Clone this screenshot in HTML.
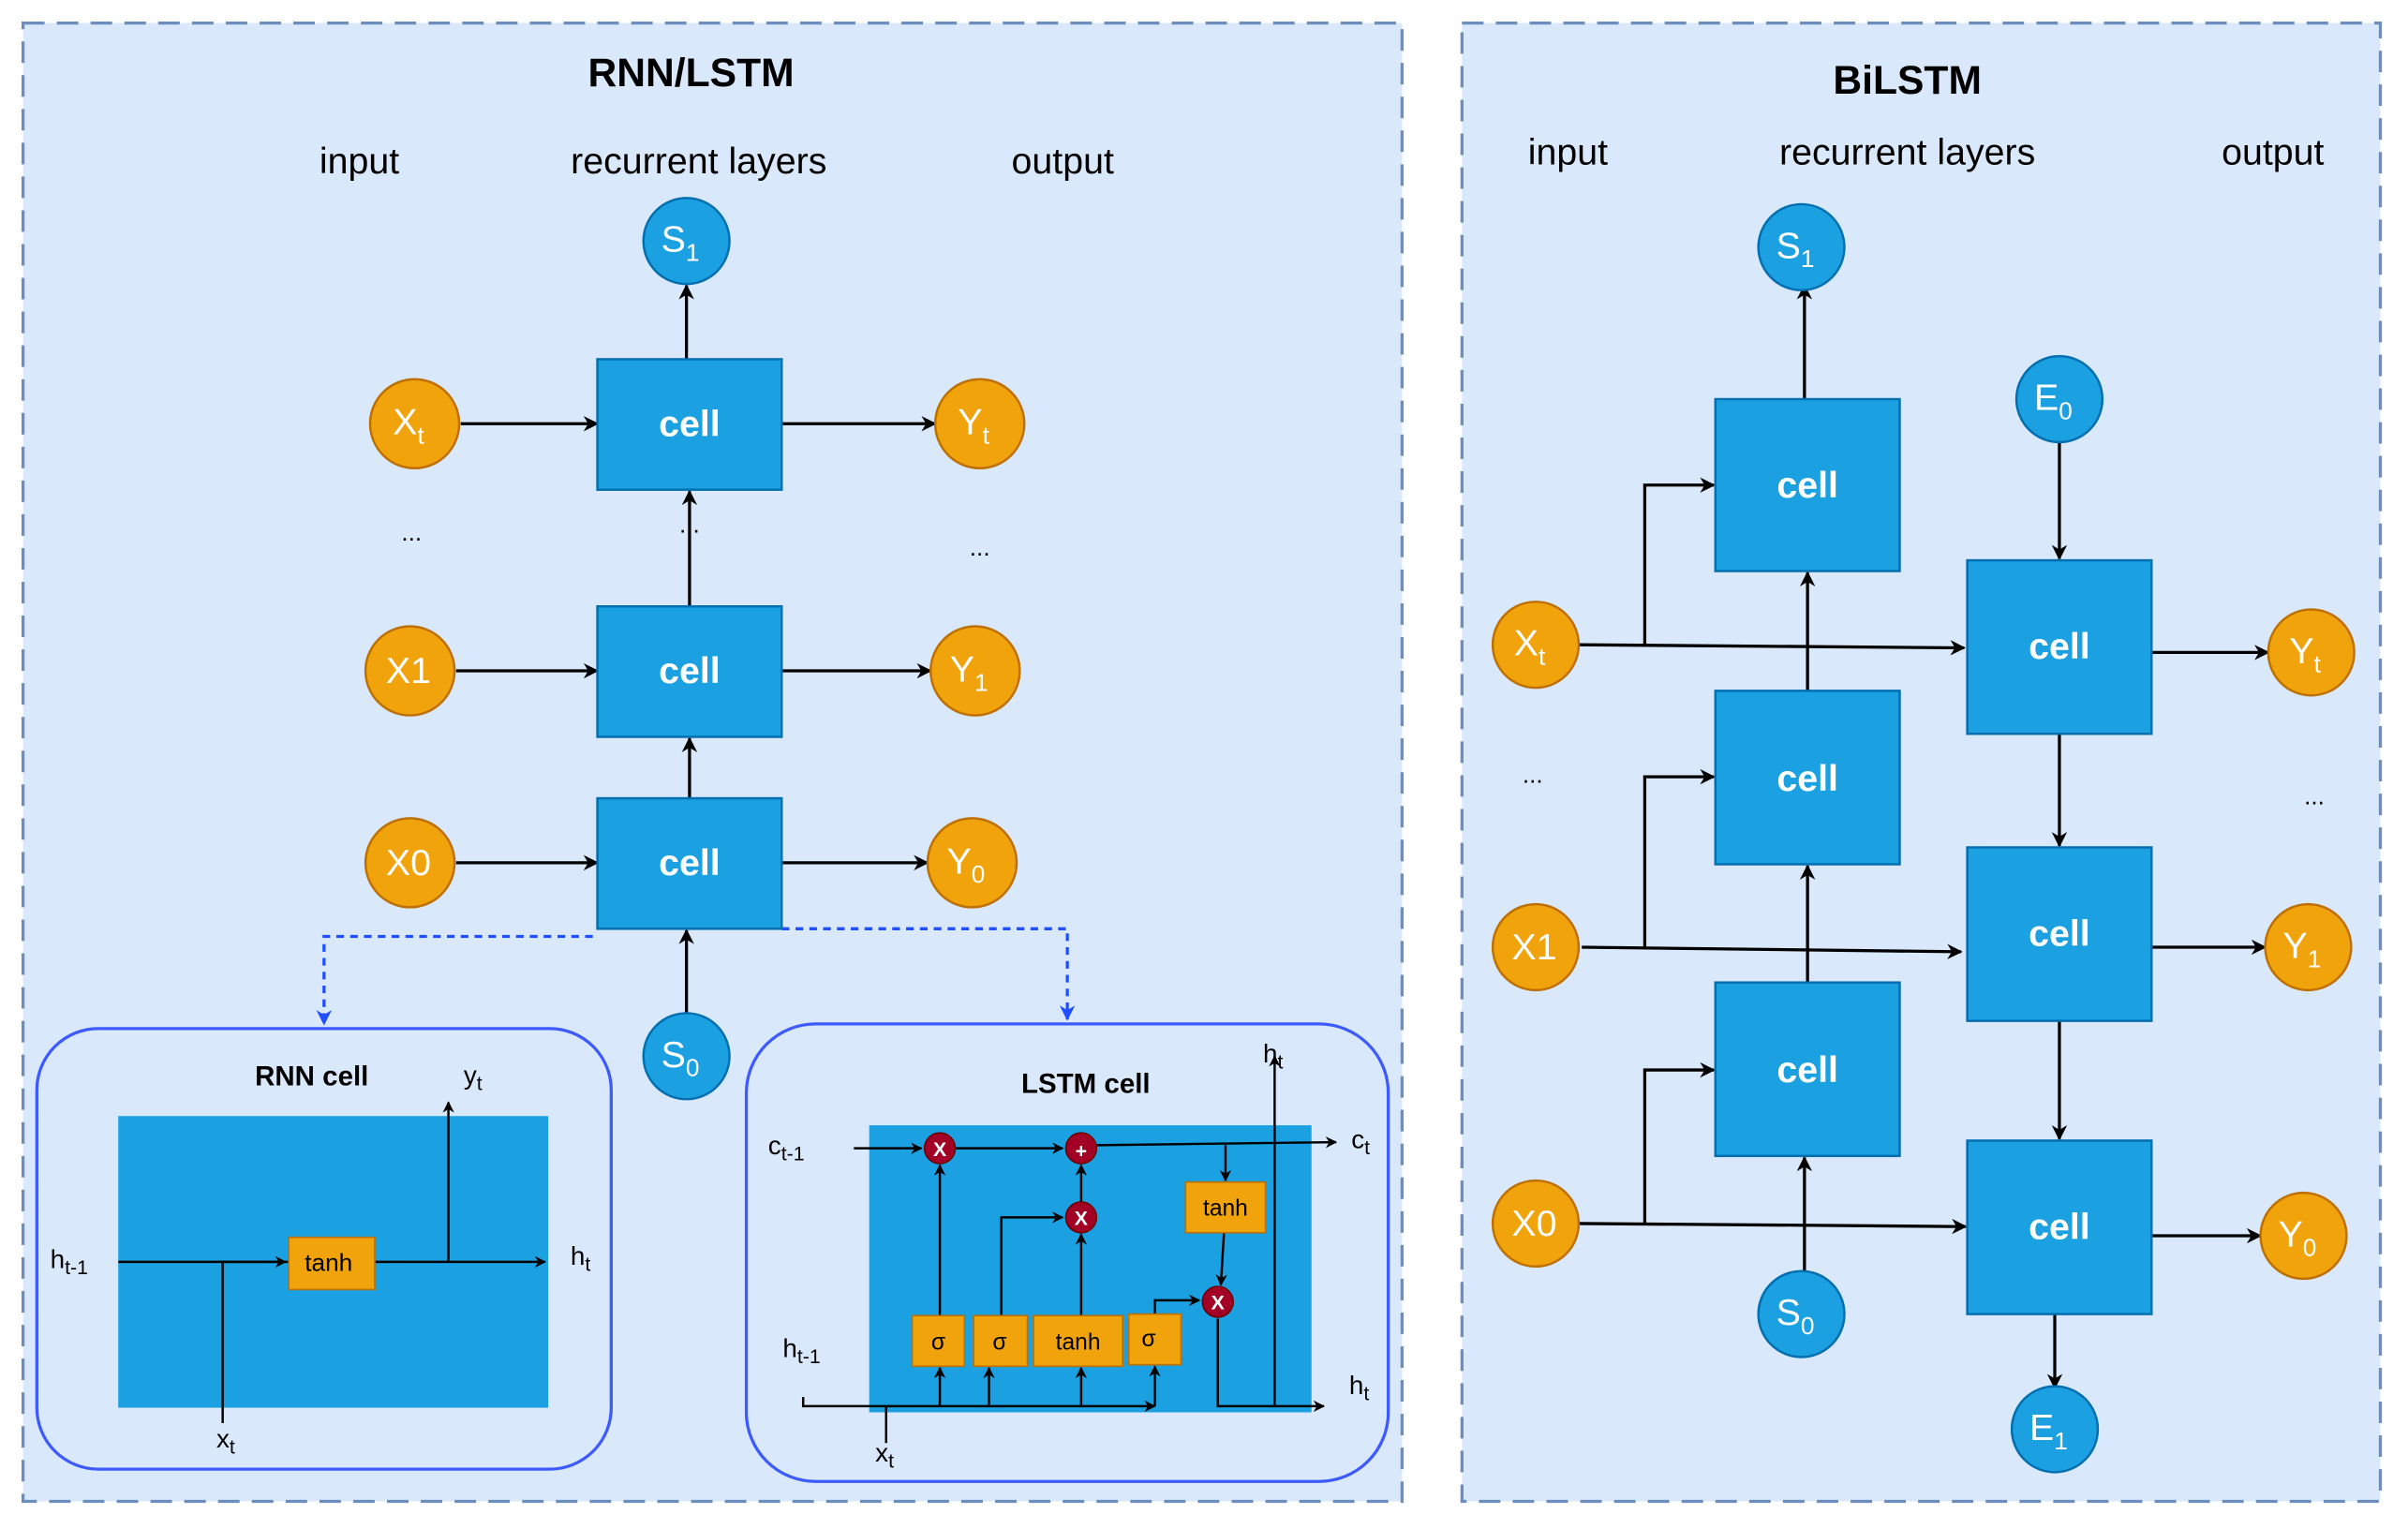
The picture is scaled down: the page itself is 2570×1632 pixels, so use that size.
<!DOCTYPE html>
<html><head><meta charset="utf-8"><style>
html,body{margin:0;padding:0;background:#fff;}
svg{display:block;}
text{font-family:"Liberation Sans",sans-serif;}
</style></head><body>
<svg width="2570" height="1632" viewBox="0 0 1568 996" preserveAspectRatio="none" xmlns="http://www.w3.org/2000/svg">
<defs>
<marker id="a" viewBox="0 0 10 10" refX="9" refY="5" markerWidth="5" markerHeight="5" orient="auto-start-reverse"><path d="M0,0L10,5L0,10L3,5z" fill="#000"/></marker>
<marker id="b" viewBox="0 0 10 10" refX="9" refY="5" markerWidth="5" markerHeight="5" orient="auto"><path d="M0,0L10,5L0,10L3,5z" fill="#1f4fff"/></marker>
</defs>
<rect x="0" y="0" width="1568" height="996" fill="#fff"/>
<rect x="15" y="15" width="898" height="963" fill="#dae8fc" stroke="#6c8ebf" stroke-width="2" stroke-dasharray="14 8"/>
<rect x="952" y="15" width="598" height="963" fill="#dae8fc" stroke="#6c8ebf" stroke-width="2" stroke-dasharray="14 8"/>

<g font-size="24" text-anchor="middle" fill="#000">
<text x="450" y="56" font-weight="bold" font-size="26">RNN/LSTM</text>
<text x="234" y="113">input</text><text x="455" y="113">recurrent layers</text><text x="692" y="113">output</text>
<text x="1242" y="61" font-weight="bold" font-size="26">BiLSTM</text>
<text x="1021" y="107">input</text><text x="1242" y="107">recurrent layers</text><text x="1480" y="107">output</text>
<text x="268" y="352" font-size="16">...</text><text x="638" y="362" font-size="16">...</text><text x="449" y="347" font-size="16">...</text>
<text x="998" y="510" font-size="16">...</text><text x="1507" y="524" font-size="16">...</text>
</g>

<g stroke="#000" stroke-width="2" fill="none" marker-end="url(#a)">
<line x1="447" y1="234" x2="447" y2="186"/>
<line x1="300" y1="276" x2="389" y2="276"/><line x1="509" y1="276" x2="609" y2="276"/>
<line x1="449" y1="395" x2="449" y2="320"/>
<line x1="297" y1="437" x2="389" y2="437"/><line x1="509" y1="437" x2="606" y2="437"/>
<line x1="449" y1="520" x2="449" y2="481"/>
<line x1="297" y1="562" x2="389" y2="562"/><line x1="509" y1="562" x2="604" y2="562"/>
<line x1="447" y1="660" x2="447" y2="606"/>
<line x1="1028" y1="420" x2="1279" y2="422"/>
<polyline points="1071,420 1071,316 1116,316"/>
<line x1="1030" y1="617" x2="1277" y2="620"/>
<polyline points="1071,617 1071,506 1116,506"/>
<line x1="1028" y1="797" x2="1280" y2="799"/>
<polyline points="1071,797 1071,697 1116,697"/>
<line x1="1177" y1="640" x2="1177" y2="564"/>
<line x1="1177" y1="450" x2="1177" y2="373"/>
<line x1="1175" y1="260" x2="1175" y2="186"/>
<line x1="1175" y1="830" x2="1175" y2="754"/>
<line x1="1341" y1="288" x2="1341" y2="364"/>
<line x1="1341" y1="478" x2="1341" y2="551"/>
<line x1="1341" y1="665" x2="1341" y2="742"/>
<line x1="1338" y1="856" x2="1338" y2="904"/>
<line x1="1401" y1="425" x2="1477" y2="425"/>
<line x1="1401" y1="617" x2="1475" y2="617"/>
<line x1="1401" y1="805" x2="1472" y2="805"/>
</g>

<g stroke="#1f4fff" stroke-width="2" fill="none" stroke-dasharray="5 4" marker-end="url(#b)">
<polyline points="386,610 211,610 211,667"/>
<polyline points="509,605 695,605 695,664"/>
</g>

<g fill="#1ba1e2" stroke="#006eaf" stroke-width="1.5">
<rect x="389" y="234" width="120" height="85"/><rect x="389" y="395" width="120" height="85"/><rect x="389" y="520" width="120" height="85"/>
<rect x="1117" y="260" width="120" height="112"/><rect x="1117" y="450" width="120" height="113"/><rect x="1117" y="640" width="120" height="113"/>
<rect x="1281" y="365" width="120" height="113"/><rect x="1281" y="552" width="120" height="113"/><rect x="1281" y="743" width="120" height="113"/>
<circle cx="447" cy="157" r="28"/><circle cx="447" cy="688" r="28"/>
<circle cx="1173" cy="161" r="28"/><circle cx="1341" cy="260" r="28"/><circle cx="1338" cy="931" r="28"/><circle cx="1173" cy="856" r="28"/>
</g>
<g fill="#f0a30a" stroke="#bd7000" stroke-width="1.5">
<circle cx="270" cy="276" r="29"/><circle cx="638" cy="276" r="29"/>
<circle cx="267" cy="437" r="29"/><circle cx="635" cy="437" r="29"/>
<circle cx="267" cy="562" r="29"/><circle cx="633" cy="562" r="29"/>
<circle cx="1000" cy="420" r="28"/><circle cx="1000" cy="617" r="28"/><circle cx="1000" cy="797" r="28"/>
<circle cx="1505" cy="425" r="28"/><circle cx="1503" cy="617" r="28"/><circle cx="1500" cy="805" r="28"/>
</g>
<g fill="#fff" font-size="24" text-anchor="middle" font-weight="bold">
<text x="449" y="284">cell</text><text x="449" y="445">cell</text><text x="449" y="570">cell</text>
<text x="1177" y="324">cell</text><text x="1177" y="515">cell</text><text x="1177" y="705">cell</text>
<text x="1341" y="429">cell</text><text x="1341" y="616">cell</text><text x="1341" y="807">cell</text>
</g>
<g fill="#fff" font-size="24" text-anchor="middle">
<text x="443" y="164">S<tspan font-size="16" dy="6">1</tspan></text>
<text x="443" y="695">S<tspan font-size="16" dy="6">0</tspan></text>
<text x="1169" y="168">S<tspan font-size="16" dy="6">1</tspan></text>
<text x="1337" y="267">E<tspan font-size="16" dy="6">0</tspan></text>
<text x="1334" y="938">E<tspan font-size="16" dy="6">1</tspan></text>
<text x="1169" y="863">S<tspan font-size="16" dy="6">0</tspan></text>
</g>
<g fill="#fff" font-size="24" text-anchor="middle">
<text x="266" y="283">X<tspan font-size="16" dy="6">t</tspan></text>
<text x="634" y="283">Y<tspan font-size="16" dy="6">t</tspan></text>
<text x="266" y="445">X1</text>
<text x="631" y="444">Y<tspan font-size="16" dy="6">1</tspan></text>
<text x="266" y="570">X0</text>
<text x="629" y="569">Y<tspan font-size="16" dy="6">0</tspan></text>
<text x="996" y="427">X<tspan font-size="16" dy="6">t</tspan></text>
<text x="999" y="625">X1</text>
<text x="999" y="805">X0</text>
<text x="1501" y="432">Y<tspan font-size="16" dy="6">t</tspan></text>
<text x="1499" y="624">Y<tspan font-size="16" dy="6">1</tspan></text>
<text x="1496" y="812">Y<tspan font-size="16" dy="6">0</tspan></text>
</g>

<!-- RNN cell -->
<rect x="24" y="670" width="374" height="287" rx="40" fill="none" stroke="#3d5afe" stroke-width="2"/>
<text x="203" y="707" font-size="18" font-weight="bold" text-anchor="middle">RNN cell</text>
<rect x="77" y="727" width="280" height="190" fill="#1ba1e2"/>
<g stroke="#000" stroke-width="1.5" fill="none" marker-end="url(#a)">
<line x1="77" y1="822" x2="355" y2="822"/>
<polyline points="145,927 145,822 186,822"/>
<line x1="292" y1="822" x2="292" y2="718"/>
</g>
<rect x="188" y="806" width="56" height="34" fill="#f0a30a" stroke="#bd7000"/>
<text x="214" y="828" font-size="16" text-anchor="middle">tanh</text>
<g font-size="17" text-anchor="middle">
<text x="45" y="826">h<tspan font-size="13" dy="4">t-1</tspan></text>
<text x="378" y="824">h<tspan font-size="13" dy="4">t</tspan></text>
<text x="308" y="706">y<tspan font-size="13" dy="4">t</tspan></text>
<text x="147" y="943">x<tspan font-size="13" dy="4">t</tspan></text>
</g>

<!-- LSTM cell -->
<rect x="486" y="667" width="418" height="298" rx="45" fill="none" stroke="#3d5afe" stroke-width="2"/>
<text x="707" y="712" font-size="18" font-weight="bold" text-anchor="middle">LSTM cell</text>
<rect x="566" y="733" width="288" height="187" fill="#1ba1e2"/>
<g stroke="#000" stroke-width="1.5" fill="none" marker-end="url(#a)">
<line x1="556" y1="748" x2="600" y2="748"/>
<line x1="622" y1="748" x2="692" y2="748"/>
<line x1="714" y1="746" x2="870" y2="744"/>
<line x1="798" y1="746" x2="798" y2="769"/>
<line x1="797" y1="803" x2="795" y2="837"/>
<line x1="612" y1="857" x2="612" y2="759"/>
<polyline points="652,857 652,793 692,793"/>
<line x1="704" y1="857" x2="704" y2="804"/>
<line x1="704" y1="783" x2="704" y2="759"/>
<polyline points="752,857 752,847 781,847"/>
<polyline points="793,859 793,916 862,916"/>
<line x1="830" y1="916" x2="830" y2="688"/>
<polyline points="523,910 523,916 752,916"/>
<line x1="612" y1="916" x2="612" y2="891"/>
<line x1="644" y1="916" x2="644" y2="891"/>
<line x1="704" y1="916" x2="704" y2="891"/>
<line x1="752" y1="916" x2="752" y2="890"/>
</g>
<line x1="577" y1="940" x2="577" y2="916" stroke="#000" stroke-width="1.5"/>
<g fill="#f0a30a" stroke="#bd7000">
<rect x="772" y="770" width="52" height="33"/>
<rect x="594" y="857" width="34" height="33"/><rect x="634" y="857" width="35" height="33"/>
<rect x="673" y="857" width="58" height="33"/><rect x="735" y="856" width="34" height="33"/>
</g>
<g font-size="15" text-anchor="middle">
<text x="798" y="792">tanh</text><text x="611" y="879">σ</text><text x="651" y="879">σ</text>
<text x="702" y="879">tanh</text><text x="748" y="877">σ</text>
</g>
<g fill="#a20025" stroke="#6f0000">
<circle cx="612" cy="748" r="10"/><circle cx="704" cy="748" r="10"/><circle cx="704" cy="793" r="10"/><circle cx="793" cy="848" r="10"/>
</g>
<g fill="#fff" font-size="13" font-weight="bold" text-anchor="middle">
<text x="612" y="753">X</text><text x="704" y="754">+</text><text x="704" y="798">X</text><text x="793" y="853">X</text>
</g>
<g font-size="17" text-anchor="middle">
<text x="512" y="752">c<tspan font-size="13" dy="4">t-1</tspan></text>
<text x="886" y="748">c<tspan font-size="13" dy="4">t</tspan></text>
<text x="522" y="884">h<tspan font-size="13" dy="4">t-1</tspan></text>
<text x="885" y="908">h<tspan font-size="13" dy="4">t</tspan></text>
<text x="829" y="692">h<tspan font-size="13" dy="4">t</tspan></text>
<text x="576" y="952">x<tspan font-size="13" dy="4">t</tspan></text>
</g>
</svg>
</body></html>
